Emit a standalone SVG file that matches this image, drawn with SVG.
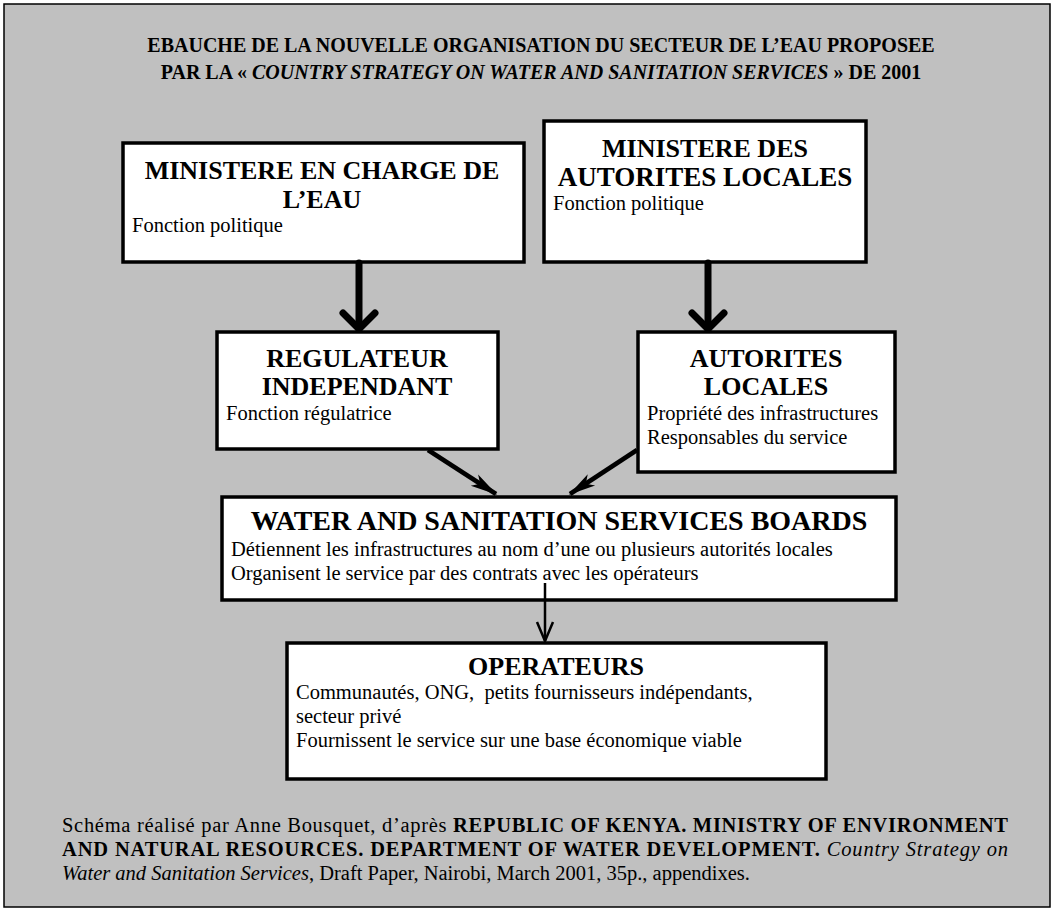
<svg xmlns="http://www.w3.org/2000/svg" width="1054" height="912" viewBox="0 0 1054 912">
<style>
text{font-family:"Liberation Serif","Times New Roman",serif;fill:#000}
.t{font-size:20px;font-weight:bold}
.h{font-size:26px;font-weight:bold;text-anchor:middle}
.b{font-size:20.5px}
.f{font-size:20.5px}
.box{fill:#fff;stroke:#000;stroke-width:3.5}
.thick{stroke:#000;stroke-width:7;fill:none;stroke-linecap:round;stroke-linejoin:round}
.med{stroke:#000;stroke-width:4.5;fill:none}
.thin{stroke:#000;stroke-width:2.5;fill:none}
</style>
<defs>
<marker id="tri" viewBox="0 0 20 10" refX="19" refY="5" markerWidth="6" markerHeight="4" markerUnits="strokeWidth" orient="auto">
<path d="M0,0 L20,5 L0,10 L5,5 Z" fill="#000"/>
</marker>
</defs>
<rect x="4" y="4" width="1046" height="903" fill="#c0c0c0" stroke="#000" stroke-width="1.5"/>
<g id="title">
<text class="t" x="541" y="52" text-anchor="middle">EBAUCHE DE LA NOUVELLE ORGANISATION DU SECTEUR DE L’EAU PROPOSEE</text>
<text class="t" x="541" y="79" text-anchor="middle">PAR LA « <tspan font-style="italic">COUNTRY STRATEGY ON WATER AND SANITATION SERVICES</tspan> » DE 2001</text>
</g>
<g id="n1">
<rect class="box" x="123" y="143" width="401" height="119"/>
<text class="h" x="322" y="179">MINISTERE EN CHARGE DE</text>
<text class="h" x="322" y="208">L’EAU</text>
<text class="b" x="132" y="232">Fonction politique</text>
</g>
<g id="n2">
<rect class="box" x="544" y="121" width="322" height="141"/>
<text class="h" x="705" y="157">MINISTERE DES</text>
<text class="h" x="705" y="186" style="font-size:27px">AUTORITES LOCALES</text>
<text class="b" x="553" y="210">Fonction politique</text>
</g>
<g id="n3">
<rect class="box" x="217" y="332" width="281" height="117"/>
<text class="h" x="357" y="367">REGULATEUR</text>
<text class="h" x="357" y="395">INDEPENDANT</text>
<text class="b" x="226" y="420">Fonction régulatrice</text>
</g>
<g id="n4">
<rect class="box" x="638" y="332" width="257" height="140"/>
<text class="h" x="766" y="367">AUTORITES</text>
<text class="h" x="766" y="395">LOCALES</text>
<text class="b" x="647" y="420">Propriété des infrastructures</text>
<text class="b" x="647" y="444">Responsables du service</text>
</g>
<g id="n5">
<rect class="box" x="222" y="497" width="674" height="103"/>
<text class="h" x="559" y="530" style="font-size:28px">WATER AND SANITATION SERVICES BOARDS</text>
<text class="b" x="231" y="556">Détiennent les infrastructures au nom d’une ou plusieurs autorités locales</text>
<text class="b" x="231" y="580">Organisent le service par des contrats avec les opérateurs</text>
</g>
<g id="n6">
<rect class="box" x="287" y="643" width="539" height="136"/>
<text class="h" x="556" y="675">OPERATEURS</text>
<text class="b" x="296" y="699" style="white-space:pre">Communautés, ONG,  petits fournisseurs indépendants,</text>
<text class="b" x="296" y="723">secteur privé</text>
<text class="b" x="296" y="747">Fournissent le service sur une base économique viable</text>
</g>
<g id="connectors">
<line class="thick" x1="359" y1="263" x2="359" y2="329"/>
<polyline class="thick" points="343,313 359,329 375,313"/>
<line class="thick" x1="708" y1="263" x2="708" y2="329"/>
<polyline class="thick" points="692,313 708,329 724,313"/>
<line class="med" x1="428" y1="450" x2="496" y2="494" marker-end="url(#tri)"/>
<line class="med" x1="637" y1="450" x2="570" y2="494" marker-end="url(#tri)"/>
<line class="thin" x1="545" y1="583" x2="545" y2="641"/>
<polyline class="thin" points="537,622 545,641 553,622"/>
</g>
<g id="footer">
<text class="f" x="62" y="832" textLength="946" lengthAdjust="spacing">Schéma réalisé par Anne Bousquet, d’après <tspan font-weight="bold">REPUBLIC OF KENYA. MINISTRY OF ENVIRONMENT</tspan></text>
<text class="f" x="62" y="856" textLength="946" lengthAdjust="spacing"><tspan font-weight="bold">AND NATURAL RESOURCES. DEPARTMENT OF WATER DEVELOPMENT.</tspan> <tspan font-style="italic">Country Strategy on</tspan></text>
<text class="f" x="62" y="880"><tspan font-style="italic">Water and Sanitation Services</tspan>, Draft Paper, Nairobi, March 2001, 35p., appendixes.</text>
</g>
</svg>
